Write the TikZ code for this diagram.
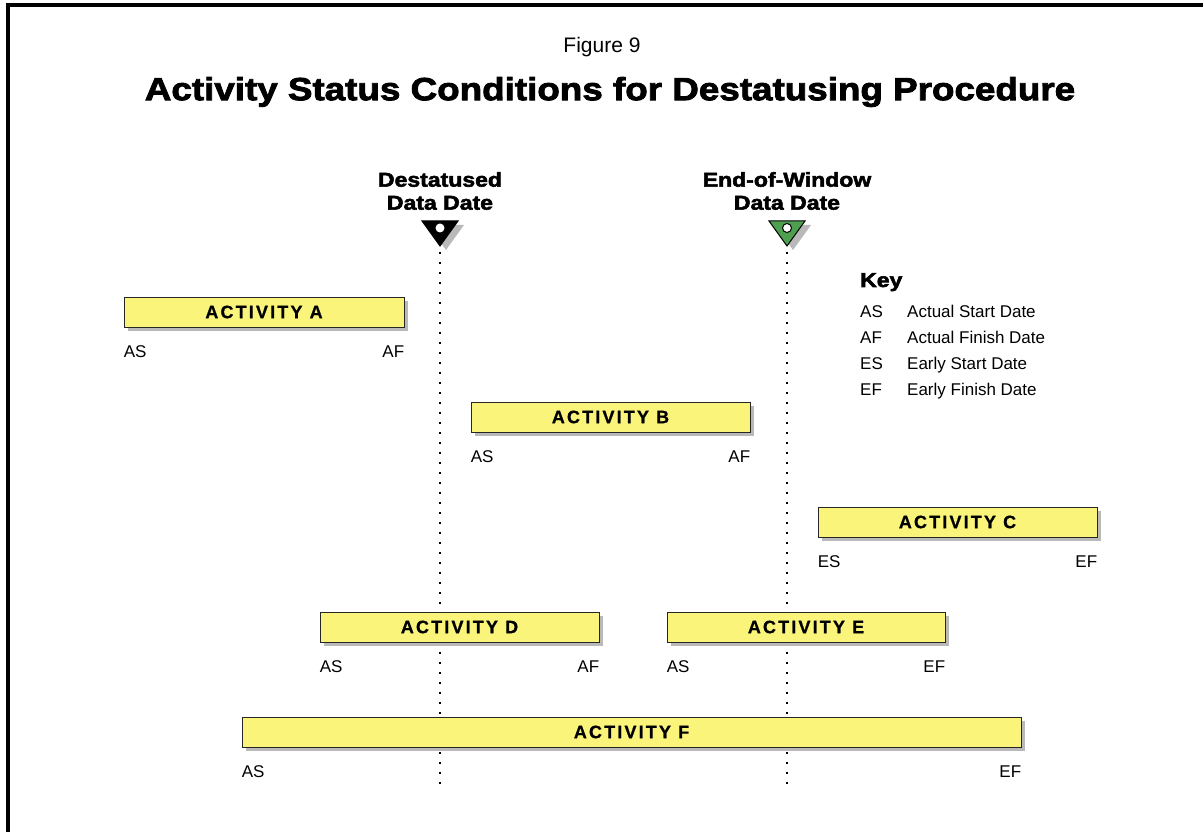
\documentclass[tikz,border=0pt]{standalone}
\usepackage{fontspec}
\setmainfont{Liberation Sans}
\newfontfamily\heavyfont[FakeBold=2.6,FakeStretch=1.15]{Liberation Sans Bold}
\newfontfamily\barfont[LetterSpace=12,FakeBold=0.8]{Liberation Sans Bold}
\usetikzlibrary{positioning,shadows}

\definecolor{barYellow}{RGB}{250,245,122}
\definecolor{markGreen}{RGB}{78,160,80}
\definecolor{shadowGray}{RGB}{185,185,185}

\begin{document}
\begin{tikzpicture}[x=1pt, y=1pt,
    bar/.style={draw=black!85, line width=0.8pt, fill=barYellow, minimum height=30pt, inner sep=0pt,
      font=\barfont\fontsize{18}{20}\selectfont,
      drop shadow={shadow xshift=4pt, shadow yshift=-4pt, fill=shadowGray, opacity=1}},
    tag/.style={inner sep=0pt, font=\fontsize{17}{19}\selectfont},
    datelabel/.style={align=center, inner sep=0pt, font=\heavyfont\fontsize{20}{23}\selectfont},
    dateline/.style={line width=1.8pt, dash pattern=on 1.8pt off 8.2pt},
    keyrow/.style={anchor=base west, inner sep=0pt, font=\fontsize{17}{19}\selectfont}]

  \useasboundingbox (0,0) rectangle (1203,832);

  % Frame
  \draw[line width=4pt] (8,0) -- (8,827) -- (1203,827);

  % Titles
  \node[font=\fontsize{21}{24}\selectfont] (figno) at (602,785) {Figure 9};
  \node[font=\heavyfont\fontsize{32}{36}\selectfont] (title) at (610,740)
    {Activity Status Conditions for Destatusing Procedure};

  % Date markers
  \node[datelabel] (ddLabel) at (440,641) {Destatused\\Data Date};
  \node[datelabel] (ewLabel) at (787,641) {End-of-Window\\Data Date};

  \coordinate (ddTop) at (440,611);
  \coordinate (ewTop) at (787,611);
  \coordinate (ddTip) at (440,586);
  \coordinate (ewTip) at (787,586);
  \coordinate (ddEnd) at (440,42);
  \coordinate (ewEnd) at (787,42);

  \fill[shadowGray] ([shift={(6,-4)}]ddTop) ++(-18,0) -- ++(36,0) -- ++(-18,-25) -- cycle;
  \fill[shadowGray] ([shift={(6,-4)}]ewTop) ++(-18,0) -- ++(36,0) -- ++(-18,-25) -- cycle;
  \filldraw[fill=black, line width=1pt] (ddTop) ++(-18,0) -- ++(36,0) -- ++(-18,-25) -- cycle;
  \filldraw[fill=markGreen, line width=1pt] (ewTop) ++(-18,0) -- ++(36,0) -- ++(-18,-25) -- cycle;
  \fill[white] (440,604) circle (4.5);
  \filldraw[fill=white, line width=1pt] (787,604) circle (4.5);

  \draw[dateline] ([yshift=-6pt]ddTip) -- (ddEnd);
  \draw[dateline] ([yshift=-6pt]ewTip) -- (ewEnd);

  % Activities
  \node[bar, minimum width=280pt] (barA) at (264,520) {ACTIVITY A};
  \node[bar, minimum width=279pt] (barB) at (610.5,415) {ACTIVITY B};
  \node[bar, minimum width=279pt] (barC) at (957.5,310) {ACTIVITY C};
  \node[bar, minimum width=279pt] (barD) at (459.5,205) {ACTIVITY D};
  \node[bar, minimum width=278pt] (barE) at (806,205) {ACTIVITY E};
  \node[bar, minimum width=779pt] (barF) at (631.5,100) {ACTIVITY F};

  % Start and finish tags
  \node[tag, below right=18pt and 0pt of barA.south west] (asA) {AS};
  \node[tag, below left=18pt and 0pt of barA.south east] (afA) {AF};
  \node[tag, below right=18pt and 0pt of barB.south west] (asB) {AS};
  \node[tag, below left=18pt and 0pt of barB.south east] (afB) {AF};
  \node[tag, below right=18pt and 0pt of barC.south west] (esC) {ES};
  \node[tag, below left=18pt and 0pt of barC.south east] (efC) {EF};
  \node[tag, below right=18pt and 0pt of barD.south west] (asD) {AS};
  \node[tag, below left=18pt and 0pt of barD.south east] (afD) {AF};
  \node[tag, below right=18pt and 0pt of barE.south west] (asE) {AS};
  \node[tag, below left=18pt and 0pt of barE.south east] (efE) {EF};
  \node[tag, below right=18pt and 0pt of barF.south west] (asF) {AS};
  \node[tag, below left=18pt and 0pt of barF.south east] (efF) {EF};

  % Key
  \node[anchor=base west, inner sep=0pt, font=\heavyfont\fontsize{20}{23}\selectfont] (key) at (860,545) {Key};
  \node[keyrow] (k1) at (860,514) {AS};
  \node[keyrow] (k1t) at (907,514) {Actual Start Date};
  \node[keyrow] (k2) at (860,488) {AF};
  \node[keyrow] (k2t) at (907,488) {Actual Finish Date};
  \node[keyrow] (k3) at (860,462) {ES};
  \node[keyrow] (k3t) at (907,462) {Early Start Date};
  \node[keyrow] (k4) at (860,436) {EF};
  \node[keyrow] (k4t) at (907,436) {Early Finish Date};

\end{tikzpicture}
\end{document}
